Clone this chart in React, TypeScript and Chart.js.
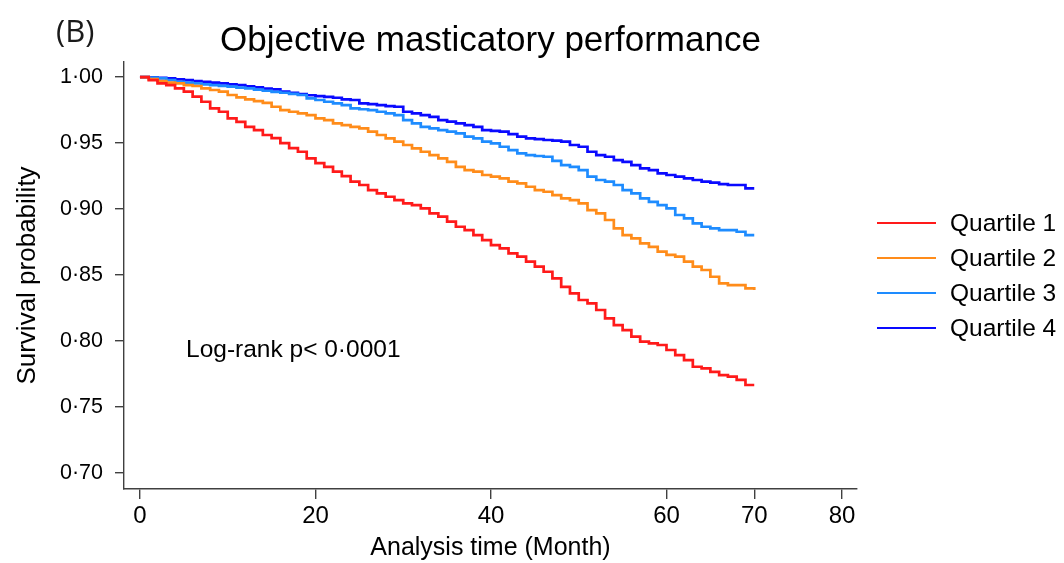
import React, { useEffect, useRef } from "react";
import { Chart, registerables } from "chart.js";

Chart.register(...registerables);

// Follow-up time in months (Kaplan–Meier steps at each month)
const months = [
  0, 1, 2, 3, 4, 5, 6, 7, 8, 9, 10, 11, 12, 13, 14, 15, 16, 17, 18, 19, 20,
  21, 22, 23, 24, 25, 26, 27, 28, 29, 30, 31, 32, 33, 34, 35, 36, 37, 38, 39, 40,
  41, 42, 43, 44, 45, 46, 47, 48, 49, 50, 51, 52, 53, 54, 55, 56, 57, 58, 59, 60,
  61, 62, 63, 64, 65, 66, 67, 68, 69, 70,
];

const quartile1 = [
  1.0, 0.9977, 0.9952, 0.9939, 0.9914, 0.9889, 0.9851, 0.9813, 0.9763, 0.9737, 0.9687,
  0.9661, 0.9623, 0.9598, 0.9561, 0.9538, 0.95, 0.9462, 0.9434, 0.9384, 0.9348,
  0.932, 0.9283, 0.925, 0.9207, 0.9182, 0.9144, 0.9119, 0.9093, 0.9068, 0.9043,
  0.903, 0.9005, 0.8967, 0.8942, 0.8904, 0.8866, 0.8841, 0.8803, 0.8765, 0.8727,
  0.8702, 0.8664, 0.8639, 0.8601, 0.8563, 0.8525, 0.8475, 0.8411, 0.8361, 0.8311,
  0.8286, 0.8235, 0.8172, 0.8121, 0.8083, 0.8033, 0.7995, 0.7983, 0.797, 0.7932,
  0.7894, 0.7856, 0.7805, 0.7793, 0.7767, 0.7742, 0.773, 0.7705, 0.7667, 0.7667,
];

const quartile2 = [
  1.0, 0.9985, 0.997, 0.9957, 0.9952, 0.9939, 0.9932, 0.9914, 0.9902, 0.9889, 0.9864,
  0.9846, 0.9831, 0.9818, 0.9805, 0.9775, 0.975, 0.9737, 0.9725, 0.9712, 0.9687,
  0.9674, 0.9649, 0.9636, 0.9623, 0.9611, 0.9586, 0.9561, 0.9536, 0.951, 0.9485,
  0.946, 0.9434, 0.9409, 0.9384, 0.9358, 0.932, 0.9295, 0.9283, 0.9258, 0.9245,
  0.9233, 0.9207, 0.9195, 0.9169, 0.9144, 0.9131, 0.9106, 0.9081, 0.9068, 0.9043,
  0.8992, 0.8967, 0.8917, 0.8854, 0.8803, 0.8778, 0.874, 0.8714, 0.8677, 0.8652,
  0.8639, 0.8601, 0.8563, 0.8538, 0.8487, 0.8437, 0.8424, 0.8424, 0.8399, 0.8386,
];

const quartile3 = [
  1.0, 0.9995, 0.999, 0.9977, 0.9964, 0.9958, 0.9952, 0.9945, 0.9939, 0.9933, 0.9927,
  0.992, 0.9914, 0.9905, 0.9896, 0.9888, 0.9881, 0.9872, 0.9864, 0.9839, 0.9826,
  0.9813, 0.98, 0.9788, 0.9763, 0.9756, 0.975, 0.9737, 0.9725, 0.9712, 0.9674,
  0.9649, 0.9623, 0.9611, 0.9598, 0.9586, 0.9573, 0.9548, 0.9536, 0.951, 0.9498,
  0.9472, 0.9447, 0.9422, 0.9409, 0.9402, 0.9396, 0.9365, 0.9333, 0.932, 0.9295,
  0.9245, 0.922, 0.9208, 0.9182, 0.9144, 0.9119, 0.9081, 0.9055, 0.903, 0.9005,
  0.8955, 0.893, 0.8892, 0.8866, 0.8854, 0.8841, 0.8841, 0.8828, 0.8803, 0.8803,
];

const quartile4 = [
  1.0, 0.9997, 0.9993, 0.999, 0.9983, 0.9977, 0.997, 0.9964, 0.9958, 0.9952, 0.9945,
  0.9939, 0.993, 0.9922, 0.9912, 0.9907, 0.9889, 0.988, 0.9871, 0.9862, 0.9856,
  0.985, 0.9843, 0.9831, 0.9826, 0.9801, 0.9795, 0.9788, 0.978, 0.9775, 0.9737,
  0.9725, 0.9712, 0.9699, 0.9674, 0.9662, 0.9649, 0.9636, 0.9623, 0.9598, 0.9592,
  0.9586, 0.9567, 0.9548, 0.9536, 0.953, 0.9523, 0.9518, 0.951, 0.9485, 0.9472,
  0.9434, 0.9409, 0.9396, 0.9371, 0.9358, 0.9333, 0.9308, 0.9295, 0.927, 0.9258,
  0.9245, 0.9233, 0.922, 0.9207, 0.92, 0.9189, 0.9182, 0.9182, 0.9157, 0.9157,
];

const seriesNames = ["Quartile 1", "Quartile 2", "Quartile 3", "Quartile 4"];
const seriesValues = [quartile1, quartile2, quartile3, quartile4];
const seriesColors = ["#ff1a1a", "#ff8c1a", "#1e8cff", "#0a0aff"];

const xTicks = [0, 20, 40, 60, 70, 80];
const yTicks = [0.7, 0.75, 0.8, 0.85, 0.9, 0.95, 1.0];

const chartTitle = "Objective masticatory performance";
const panelLabel = "(B)";
const pValueText = "Log-rank p< 0·0001";
const xAxisTitle = "Analysis time (Month)";
const yAxisTitle = "Survival probability";

const FONT = '"Liberation Sans", Arial, Helvetica, sans-serif';
const AXIS_COLOR = "#404040";

// Title, panel letter, p-value note and the legend on the right
const annotationsPlugin = {
  id: "kmAnnotations",
  afterDraw(chart: any) {
    const { ctx, chartArea } = chart;
    ctx.save();
    ctx.fillStyle = "#000";
    ctx.textBaseline = "alphabetic";

    ctx.textAlign = "center";
    ctx.font = `35px ${FONT}`;
    ctx.fillText(chartTitle, (chartArea.left + chartArea.right) / 2, 51);

    ctx.textAlign = "left";
    ctx.fillStyle = "#1a1a1a";
    ctx.font = `31px "Open Sans", "Noto Sans", sans-serif`;
    ctx.fillText(panelLabel, 56, 42);

    ctx.fillStyle = "#000";
    ctx.font = `24.5px ${FONT}`;
    ctx.fillText(pValueText, chartArea.left + 62, 357);

    const lineStart = chartArea.right + 20;
    const lineEnd = chartArea.right + 79;
    const textX = chartArea.right + 93;
    ctx.font = `24.5px ${FONT}`;
    chart.data.datasets.forEach((ds: any, i: number) => {
      const y = 223 + i * 35;
      ctx.strokeStyle = ds.borderColor;
      ctx.lineWidth = 2;
      ctx.beginPath();
      ctx.moveTo(lineStart, y);
      ctx.lineTo(lineEnd, y);
      ctx.stroke();
      ctx.fillStyle = "#000";
      ctx.textBaseline = "middle";
      ctx.fillText(ds.label, textX, y + 1);
    });
    ctx.restore();
  },
};

export default function App() {
  const canvasRef = useRef<HTMLCanvasElement | null>(null);

  useEffect(() => {
    if (!canvasRef.current) return;
    const datasets = seriesNames.map((name, i) => ({
      label: name,
      data: months.map((m, j) => ({ x: m, y: seriesValues[i][j] })),
      borderColor: seriesColors[i],
      backgroundColor: seriesColors[i],
      borderWidth: 2.7,
      pointRadius: 0,
      stepped: "before" as const,
      fill: false,
    }));

    const chart = new Chart(canvasRef.current, {
      type: "line",
      data: { datasets },
      options: {
        responsive: false,
        animation: false,
        layout: { padding: { top: 62, right: 207, bottom: 0, left: 0 } },
        plugins: {
          legend: { display: false },
          tooltip: { enabled: false },
          title: { display: false },
        },
        scales: {
          x: {
            type: "linear",
            min: -1.82,
            max: 81.71,
            afterBuildTicks: (scale: any) => {
              scale.ticks = xTicks.map((v) => ({ value: v }));
            },
            afterFit: (scale: any) => {
              scale.height = 74;
            },
            grid: {
              drawOnChartArea: false,
              drawTicks: true,
              tickLength: 10,
              color: AXIS_COLOR,
              lineWidth: 1.4,
            },
            border: { display: true, color: AXIS_COLOR, width: 1.4 },
            ticks: {
              color: "#000",
              font: { family: FONT, size: 24 },
              padding: 3,
              maxRotation: 0,
              callback: (v: any) => String(v),
            },
            title: {
              display: true,
              text: xAxisTitle,
              color: "#000",
              font: { family: FONT, size: 25 },
              padding: { top: 0, bottom: 0 },
            },
          },
          y: {
            type: "linear",
            min: 0.6879,
            max: 1.0114,
            afterBuildTicks: (scale: any) => {
              scale.ticks = yTicks.map((v) => ({ value: v }));
            },
            afterFit: (scale: any) => {
              scale.width = 124;
            },
            grid: {
              drawOnChartArea: false,
              drawTicks: true,
              tickLength: 9,
              color: AXIS_COLOR,
              lineWidth: 1.4,
            },
            border: { display: true, color: AXIS_COLOR, width: 1.4 },
            ticks: {
              color: "#000",
              font: { family: FONT, size: 21.5 },
              padding: 12,
              callback: (v: any) => Number(v).toFixed(2).replace(".", "·"),
            },
            title: {
              display: true,
              text: yAxisTitle,
              color: "#000",
              font: { family: FONT, size: 26 },
              padding: { top: 12, bottom: 0 },
            },
          },
        },
      },
      plugins: [annotationsPlugin],
    });
    return () => chart.destroy();
  }, []);

  return (
    <div
      style={{
        position: "absolute",
        left: 0,
        top: 0,
        width: 1064,
        height: 563,
        background: "#fff",
      }}
    >
      <canvas ref={canvasRef} width={1064} height={563} />
    </div>
  );
}
